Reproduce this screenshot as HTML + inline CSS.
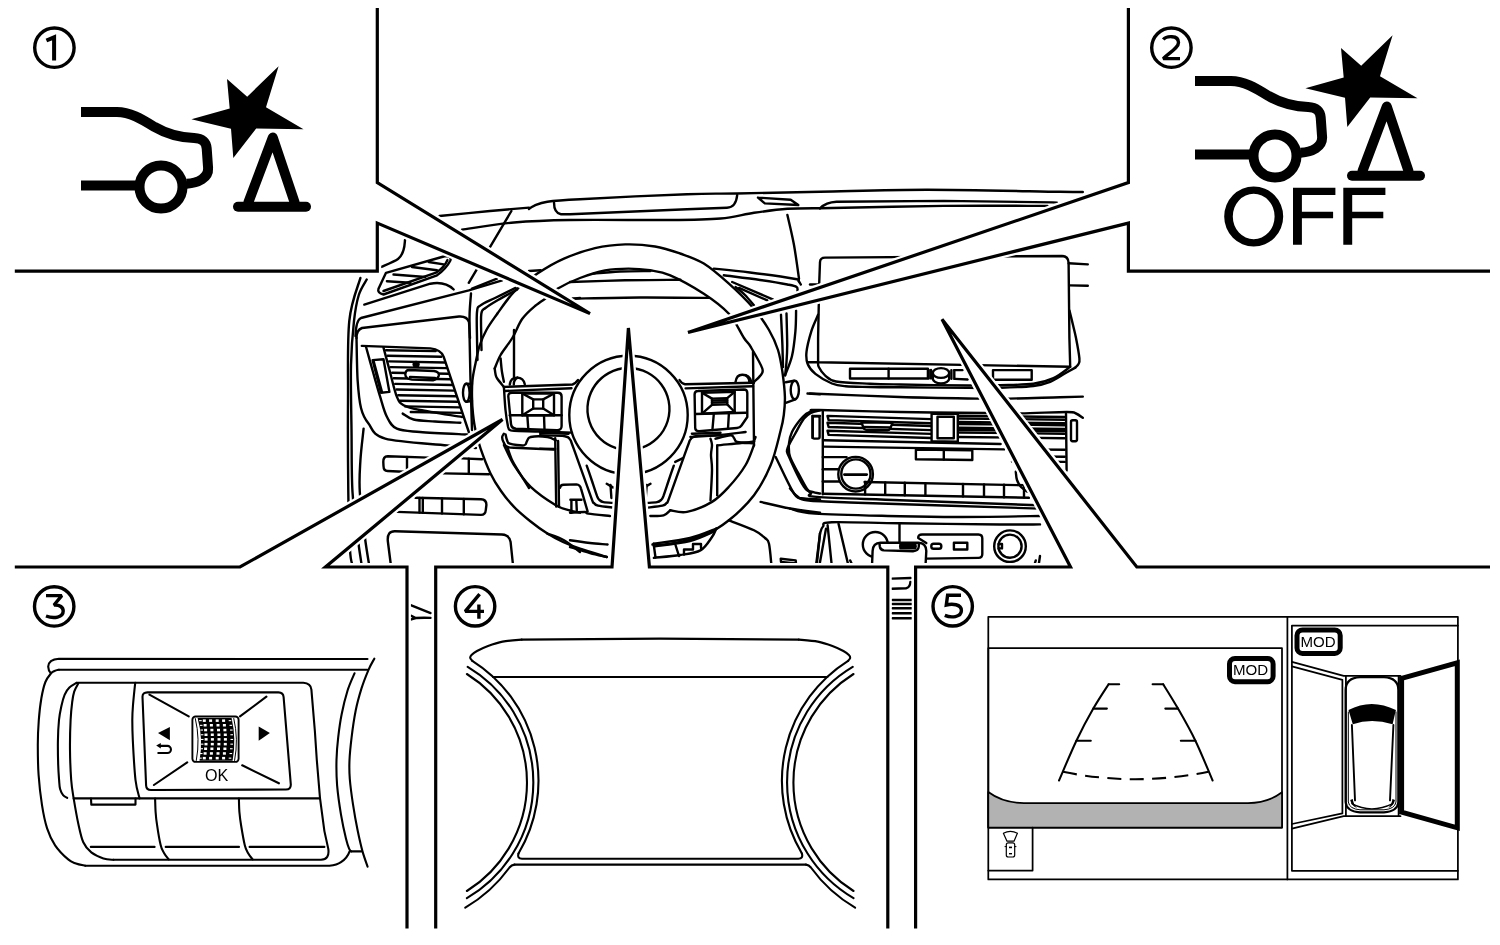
<!DOCTYPE html>
<html lang="en"><head><meta charset="utf-8"><title>diagram</title>
<style>
html,body{margin:0;padding:0;background:#fff;}
body{width:1500px;height:945px;overflow:hidden;font-family:"Liberation Sans",sans-serif;}
svg{display:block;will-change:transform;}
.t{fill:none;stroke:#000;stroke-width:2.4;stroke-linecap:round;stroke-linejoin:round;}
.tw{fill:#fff;stroke:#000;stroke-width:2.4;stroke-linecap:round;stroke-linejoin:round;}
.m{fill:none;stroke:#000;stroke-width:2.1;stroke-linecap:round;stroke-linejoin:round;}
.mw{fill:#fff;stroke:#000;stroke-width:2.1;stroke-linecap:round;stroke-linejoin:round;}
.c{fill:none;stroke:#000;stroke-width:3.2;stroke-linecap:butt;stroke-linejoin:miter;stroke-miterlimit:4;}
.m5{fill:none;stroke:#000;stroke-width:1.75;stroke-linecap:round;stroke-linejoin:round;}
.w{fill:#fff;stroke:none;}
.h{fill:none;stroke:#fff;stroke-width:7.8;stroke-linecap:butt;stroke-linejoin:bevel;}
.k{fill:#000;stroke:none;}
.ic{fill:none;stroke:#000;stroke-width:10;stroke-linecap:butt;stroke-linejoin:round;}
.icr{fill:none;stroke:#000;stroke-width:10;stroke-linecap:round;stroke-linejoin:round;}
.n{fill:none;stroke:#000;stroke-width:3.4;stroke-linecap:butt;stroke-linejoin:miter;stroke-miterlimit:2;}
text{font-family:"Liberation Sans",sans-serif;fill:#000;}
</style></head>
<body>
<svg width="1500" height="945" viewBox="0 0 1500 945">
<g id="dash">
<path class="t" d="M439.5,216.0C447.9,215.2 475.1,212.4 490.0,211.0C504.9,209.6 522.5,208.2 529.0,207.6" />
<path class="t" d="M529.0,209.0C529.8,208.5 530.9,207.0 534.0,205.8C537.1,204.6 539.7,202.8 547.4,201.7C555.1,200.6 556.7,200.4 580.0,199.2C603.3,197.9 660.8,195.1 687.0,194.2C713.2,193.2 715.0,193.9 737.2,193.5C759.4,193.1 788.4,192.3 820.0,191.7C851.6,191.1 887.0,189.7 927.0,189.7C967.0,189.7 1034.0,191.4 1060.0,191.8C1086.0,192.2 1079.0,192.0 1082.8,192.0" />
<path class="t" d="M462.0,229.7C470.7,228.5 496.0,224.1 514.0,222.5C532.0,220.9 544.0,220.4 570.0,220.0C596.0,219.6 645.2,220.2 670.3,220.0C695.4,219.8 706.5,219.7 720.5,218.5C734.5,217.3 742.9,214.4 754.0,212.8C765.1,211.2 776.4,209.6 787.4,208.8C798.4,208.0 814.6,208.3 820.0,208.2" />
<path class="t" d="M820,208.3 Q826,202.4 836.5,201.8 L943.8,200.9 L1052.5,202.4 L1056.9,202.6" />
<path class="t" d="M820.0,208.2C840.6,207.8 905.9,206.3 943.8,205.9C981.7,205.5 1030.2,205.9 1047.5,205.9" />
<path class="t" d="M554,202.5 Q554,213 561,214.3 L570,214.3 L687,209.3 L727,207.7 Q736,207.4 737.2,195" />
<polyline class="t" points="758.0,197.6 790.7,199.7 798.3,205.0 764.8,203.4 758.0,197.6" />
<path class="t" d="M787.4,215.0C788.5,220.0 792.1,234.4 794.0,245.0C795.9,255.6 798.2,273.1 799.0,278.7" />
<polyline class="t" points="511.4,211.0 468.8,282.8" />
<path class="t" d="M405.0,240.0C404.8,241.7 404.7,246.8 403.5,250.0C402.3,253.2 401.8,256.2 398.0,259.0C394.2,261.8 383.8,265.7 381.0,267.0" />
<path class="t" d="M386,272.8 L445.4,256 Q452,256.3 450.4,260.5 Q446,269 437,275.3 L383.5,294.5 Q377,293 378.5,288.7 Z" />
<path class="t" d="M383.5,291 L436,272.6 Q444,268 447.5,260" />
<polyline class="t" points="412.0,267.0 437.0,270.3" />
<polyline class="t" points="393.5,274.5 425.3,277.0" />
<polyline class="t" points="386.9,281.2 410.3,282.8" />
<polyline class="t" points="428.7,262.0 443.7,264.4" />
<path class="t" d="M360.4,278.0C358.5,285.1 351.4,300.5 349.3,320.8C347.2,341.1 348.2,371.5 348.0,400.0C347.8,428.5 348.0,467.0 348.3,492.0C348.6,517.0 349.3,537.7 350.0,550.0C350.7,562.3 352.2,563.3 352.6,566.0" />
<path class="t" d="M366.7,279.5C365.4,282.1 360.9,288.1 358.8,295.0C356.7,301.9 355.3,309.1 354.0,320.8C352.7,332.5 351.4,347.0 351.0,365.0C350.6,383.0 351.2,407.5 351.5,428.7C351.8,449.9 351.4,473.4 352.5,492.0C353.6,510.6 356.4,527.7 358.0,540.0C359.6,552.3 361.2,561.7 361.8,566.0" />
<path class="t" d="M363.6,428.7C363.1,434.0 361.0,449.9 360.4,460.5C359.8,471.1 359.0,479.1 359.8,492.0C360.6,504.9 363.4,525.7 365.0,538.0C366.6,550.3 368.6,561.3 369.3,566.0" />
<path class="t" d="M364.3,304.6 L430.3,283.7 Q445,281 453.7,289.5" />
<path class="t" d="M355.5,336 Q356,320 361,318 L468.8,290.4 L502.2,280.3" />
<polyline class="t" points="472.0,288.7 497.0,278.7" />
<path class="t" d="M356.5,338 Q356.5,330 362,328 L459,316.5 Q467,316 469,322 L470,338" />
<path class="t" d="M471.0,293.5C470.8,296.9 469.8,306.4 469.6,313.8C469.4,321.2 469.5,327.0 469.6,338.0C469.8,349.0 470.1,364.7 470.5,380.0C470.9,395.3 471.8,421.7 472.0,430.0" />
<path class="t" d="M356.5,338.0C356.7,345.0 356.9,368.3 357.6,380.0C358.4,391.7 359.2,400.7 361.0,408.0C362.8,415.3 364.5,418.5 368.5,423.6C372.5,428.7 372.1,435.1 385.2,438.7C398.3,442.3 431.9,443.8 447.0,445.4C462.1,446.9 471.2,447.6 476.0,448.0" />
<path class="t" d="M361.8,345.9 L430.3,348.4 Q441,349.5 443.7,356.8 L468.8,432" />
<path class="t" d="M366.0,346.7C367.2,350.9 370.6,363.6 373.0,372.0C375.4,380.4 377.9,389.4 380.2,396.9C382.5,404.4 384.2,411.7 387.0,417.0C389.8,422.3 391.4,426.2 396.9,428.7C402.4,431.2 408.3,431.0 420.0,432.0C431.7,433.0 459.2,434.1 467.1,434.5" />
<path class="t" d="M383.5,347.6C384.6,351.7 387.8,363.8 390.0,372.0C392.2,380.2 394.6,391.3 396.9,396.9C399.2,402.4 399.8,403.1 403.6,405.3C407.5,407.5 410.2,408.1 420.0,410.0C429.8,411.9 455.1,415.8 462.1,417.0" />
<path class="t" d="M402.7,413.6C404.5,414.6 408.2,418.2 413.6,419.5C419.0,420.8 427.2,420.9 435.0,421.5C442.8,422.1 456.2,422.6 460.4,422.8" />
<polyline class="t" points="386.1,350.2 435.7,351.1" />
<polyline class="t" points="387.6,355.8 441.3,356.8" />
<polyline class="t" points="389.1,361.4 444.7,362.5" />
<polyline class="t" points="390.6,367.1 446.6,368.1" />
<polyline class="t" points="392.2,372.7 448.5,373.7" />
<polyline class="t" points="393.7,378.3 450.4,379.3" />
<polyline class="t" points="395.2,383.9 452.3,385.0" />
<polyline class="t" points="396.7,389.5 454.1,390.6" />
<polyline class="t" points="398.2,395.2 456.0,396.2" />
<polyline class="t" points="399.8,400.8 457.9,401.8" />
<polyline class="t" points="405.3,406.4 459.8,407.4" />
<polyline class="t" points="410.8,412.0 461.6,412.9" />
<polygon class="t" points="372.6,360.1 383.5,359.3 389.4,391.9 381.0,392.7" />
<polyline class="t" points="373.6,361.0 382.0,392.0" />
<circle cx="416.1" cy="364.3" r="3.6" class="k"/>
<path class="tw" d="M409,370 L434,371 Q439.5,372 438.8,375.5 Q438,379 433,380.3 L412,379.6 Q405.5,379 405.3,374.5 Q405.5,370 409,370 Z" />
<polyline class="t" points="410.0,377.0 435.0,378.0" />
<ellipse cx="466.3" cy="392.7" rx="3.3" ry="9" class="tw"/>
<path class="t" d="M466.3,383.7 L472,384 M466.3,401.7 L472,401" />
<path class="t" d="M515.6,287.9C512.2,289.6 500.9,295.1 495.0,298.0C489.1,300.9 483.5,303.1 480.5,305.4C477.5,307.7 477.6,306.6 477.0,312.0C476.4,317.4 476.9,330.0 477.0,338.0C477.1,346.0 477.4,356.3 477.5,360.0" />
<path class="t" d="M517.3,289.5C514.1,291.2 503.3,296.9 498.0,300.0C492.7,303.1 488.3,305.7 485.5,308.0C482.7,310.3 482.0,308.8 481.3,313.8C480.6,318.8 481.3,332.0 481.3,338.0C481.3,344.0 481.5,348.0 481.5,350.0" />
<path class="t" d="M428.7,457.6 L387.7,456.2 Q383,456.5 383.3,462 L383.5,466 Q383.6,471 387.5,471 L403.6,471.8" />
<polyline class="t" points="407.0,457.0 407.0,470.0" />
<polyline class="t" points="462.1,458.4 482.2,459.2" />
<polyline class="t" points="443.7,473.4 488.9,474.3" />
<polyline class="t" points="468.8,458.6 468.8,473.8" />
<path class="t" d="M415.3,497.7 L481,499.3 Q486.5,499.6 486.4,505 L485.8,510 Q485.4,514.9 481,514.9 L396.9,511.9" />
<polyline class="t" points="419.5,498.0 419.5,512.6" />
<polyline class="t" points="422.8,498.0 422.8,512.7" />
<polyline class="t" points="442.0,498.5 442.0,513.4" />
<polyline class="t" points="463.8,499.0 463.8,514.2" />
<path class="t" d="M391,566 L387.8,541 Q387,531 395,531.2 L502,534.5 Q509.5,535 510.6,542 L513.1,566" />
<path class="t" d="M497.2,313.8C500.0,310.2 507.3,298.7 514.0,292.0C520.7,285.3 529.1,279.2 537.4,273.6C545.7,268.0 554.4,262.8 564.0,258.6C573.6,254.4 584.8,250.6 595.0,248.2C605.2,245.8 615.2,244.7 625.2,244.4C635.2,244.1 645.9,245.0 655.0,246.5C664.1,248.0 671.9,250.7 680.0,253.5C688.1,256.4 695.6,258.6 703.8,263.6C711.9,268.6 720.5,276.2 728.9,283.7C737.3,291.2 747.3,301.1 754.0,308.8C760.7,316.5 765.0,323.1 769.0,330.0C773.0,336.9 775.8,343.0 778.0,350.0C780.2,357.0 781.2,364.0 782.4,371.8C783.5,379.6 784.7,389.7 784.9,396.9C785.1,404.1 784.5,409.4 783.8,415.0C783.1,420.6 782.9,422.0 780.7,430.3C778.5,438.6 775.2,454.2 770.7,465.0C766.2,475.8 761.0,486.0 754.0,495.2C747.0,504.4 737.3,513.6 728.9,520.3C720.5,527.0 713.6,531.4 703.8,535.3C694.0,539.2 678.9,542.2 670.3,543.7C661.7,545.2 655.0,544.5 652.0,544.6" />
<path class="t" d="M497.2,313.8C495.4,316.5 489.3,324.6 486.4,330.0C483.4,335.4 481.3,340.4 479.5,346.0C477.7,351.6 476.7,357.7 475.5,363.4C474.3,369.1 473.1,374.4 472.5,380.0C471.9,385.6 471.9,391.2 472.0,396.9C472.1,402.6 472.4,408.4 473.0,414.0C473.6,419.6 474.2,424.6 475.5,430.3C476.8,436.0 478.0,441.2 480.5,448.4C483.0,455.6 487.1,466.3 490.5,473.4C493.9,480.5 497.1,485.4 501.0,491.0C504.9,496.6 509.2,501.9 514.0,506.9C518.8,511.9 524.4,516.5 530.0,521.0C535.6,525.5 541.9,530.1 547.4,533.6C552.9,537.1 557.6,539.5 563.0,542.0C568.4,544.5 572.7,546.2 580.0,548.7C587.3,551.2 602.3,555.6 606.8,557.0" />
<path class="t" d="M494.7,368.5C495.7,366.2 497.7,360.1 500.6,355.0C503.5,349.9 508.7,344.0 512.3,338.0C515.9,332.0 518.5,324.1 522.3,318.8C526.1,313.5 530.5,309.8 535.0,306.0C539.5,302.2 545.3,298.9 549.0,296.0C552.7,293.1 552.2,291.7 557.4,288.7C562.6,285.7 572.1,281.0 580.0,278.0C587.9,275.0 596.9,272.1 605.0,270.5C613.1,268.9 621.0,268.6 628.5,268.6C636.0,268.6 643.0,269.2 650.0,270.3C657.0,271.4 661.3,271.4 670.3,275.3C679.3,279.2 694.0,287.3 703.8,293.7C713.6,300.1 722.2,306.4 728.9,313.8C735.6,321.2 740.4,332.5 744.0,338.0C747.6,343.5 747.6,341.6 750.6,346.7C753.6,351.8 760.7,363.6 762.3,368.5C763.9,373.4 761.4,373.8 760.0,376.0C758.6,378.2 755.0,380.8 754.0,381.8" />
<path class="t" d="M494.7,368.5C494.8,369.4 495.1,372.3 495.5,374.0C495.9,375.7 495.8,376.4 497.2,378.5C498.6,380.6 502.8,385.5 503.9,386.9" />
<polyline class="t" points="514.0,330.0 514.0,378.5" />
<path class="t" d="M500.6,358.4C500.8,360.7 501.4,368.1 502.0,372.0C502.6,375.9 503.6,380.2 503.9,381.8" />
<path class="t" d="M503.9,445.0C505.6,448.3 509.5,458.0 514.0,465.0C518.5,472.0 523.7,480.1 530.7,486.8C537.7,493.5 549.2,501.2 555.8,505.2C562.3,509.1 566.0,509.2 570.0,510.5C574.0,511.8 578.3,512.3 580.0,512.7" />
<path class="t" d="M570.0,540.3C573.3,540.8 583.7,542.3 590.0,543.0C596.3,543.7 604.7,544.2 607.6,544.5" />
<path class="t" d="M754.0,445.0C752.6,448.3 749.8,458.0 745.6,465.0C741.4,472.0 734.5,480.7 728.9,486.8C723.3,492.9 719.0,497.7 712.0,501.9C705.0,506.1 694.0,510.5 687.0,511.9C680.0,513.3 673.1,510.5 670.3,510.2" />
<path class="t" d="M570.0,282.0C579.2,281.7 606.6,280.7 625.0,280.3C643.4,279.9 671.2,279.9 680.4,279.8" />
<path class="t" d="M593.4,273.6C597.8,273.2 610.5,271.9 620.0,271.5C629.5,271.1 645.2,271.1 650.3,271.0" />
<path class="t" d="M572.5,298.7C583.8,298.5 617.3,297.6 640.0,297.5C662.7,297.4 697.3,297.8 708.8,297.9" />
<polyline class="t" points="529.0,271.0 540.7,270.3" />
<polyline class="t" points="572.5,298.7 580.0,298.0" />
<circle cx="628.5" cy="415" r="59.2" class="t"/>
<path class="t" d="M615.5,447.9 A41,41 0 1 1 642,447.7" />
<path class="t" d="M503.9,386.9 L572.5,384.5 Q575.5,383.5 578,380 M504.6,391 L571.5,388.2" />
<path class="t" d="M503.9,386.9C504.2,390.8 504.8,403.3 505.5,410.0C506.2,416.7 507.4,423.7 508.1,427.0C508.9,430.3 509.0,429.4 510.0,430.0C511.0,430.6 509.0,430.6 514.0,430.8C519.0,431.1 530.3,431.2 540.0,431.5C549.7,431.8 566.7,432.4 572.0,432.6" />
<path class="t" d="M512,392.7 L558,392.7 Q561.6,392.8 561.6,396.5 L561.6,426 Q561.6,430.3 557,430.2 L516,428.7 Q511.5,428.4 511,424 L508.3,396.5 Q508.1,392.7 512,392.7 Z" />
<polygon class="t" points="522.3,393.5 554.0,393.5 554.0,415.3 522.3,415.3" />
<polygon class="t" points="533.2,399.4 543.2,399.4 543.2,408.6 533.2,408.6" />
<polyline class="t" points="522.3,393.5 533.2,399.4" />
<polyline class="t" points="554.0,393.5 543.2,399.4" />
<polyline class="t" points="554.0,415.3 543.2,408.6" />
<polyline class="t" points="522.3,415.3 533.2,408.6" />
<polyline class="t" points="509.8,415.3 561.6,415.3" />
<polyline class="t" points="527.3,415.3 528.3,429.2" />
<polyline class="t" points="544.0,415.3 544.5,429.8" />
<path class="t" d="M509.8,384.6 Q510.5,377.5 517.3,377.6 Q523.5,377.8 524.8,384.2" />
<path class="t" d="M517.5,377.6 Q513.5,380 513.8,384.5" />
<path class="t" d="M503.9,433.7C503.6,434.2 502.3,435.6 502.2,437.0C502.1,438.4 502.6,440.3 503.5,442.0C504.4,443.7 504.6,446.0 507.3,447.0C510.1,448.0 512.2,447.6 520.0,448.0C527.8,448.4 548.3,449.3 554.0,449.6" />
<path class="t" d="M505.6,434.5C505.8,435.4 506.3,438.5 507.0,440.0C507.7,441.5 507.0,442.8 509.8,443.7C512.6,444.6 521.1,445.8 524.0,445.4C526.9,444.9 525.9,442.4 527.0,441.0C528.1,439.6 527.3,437.7 530.7,437.0C534.1,436.3 543.2,436.4 547.4,437.0C551.6,437.6 554.4,439.8 555.8,440.4" />
<path class="t" d="M507.3,447.0C508.1,449.2 510.1,455.8 512.0,460.0C514.0,464.2 516.2,467.3 519.0,472.0C521.8,476.7 527.3,485.3 529.0,488.0" />
<polyline class="t" points="555.2,438.1 556.2,506.5" />
<polyline class="t" points="558.1,441.0 559.0,506.5" />
<polyline class="t" points="540.0,448.6 555.2,449.0" />
<path class="t" d="M560,487.8 Q560.5,484.9 563.5,484.8 L576.5,484.4 Q580,484.6 581,488.6 L587.6,511.4" />
<path class="t" d="M571.4,510.5 L571.4,499.8 L576.3,499.8 L576.8,510.5 M570.4,499.8 L581.5,499.8" />
<path class="t" d="M679.5,380 Q681.5,383.6 685,384.2 L754,382.7 M685.6,388.4 L753,386.2" />
<path class="t" d="M698,391 L744,389.5 Q747.3,389.5 747.3,393 L747.3,417 L741.5,425.5 Q740,427.8 737,428 L699,431.2 Q695.4,431.3 695.2,428 L694.6,394.5 Q694.6,391 698,391 Z" />
<polygon class="t" points="702.0,392.7 734.7,391.9 734.7,412.0 702.0,413.6" />
<polygon class="t" points="712.0,398.6 727.2,398.2 727.2,404.4 712.0,404.8" />
<polyline class="t" points="712.0,400.6 727.2,400.3" />
<polyline class="t" points="712.0,402.6 727.2,402.3" />
<polyline class="t" points="702.0,392.7 712.0,398.6" />
<polyline class="t" points="734.7,391.9 727.2,398.2" />
<polyline class="t" points="734.7,412.0 727.2,404.4" />
<polyline class="t" points="702.0,413.6 712.0,404.8" />
<polyline class="t" points="695.2,414.0 745.6,412.8" />
<polyline class="t" points="713.8,414.0 712.4,430.0" />
<polyline class="t" points="728.9,413.4 728.0,428.8" />
<path class="t" d="M735.5,382.2 Q736.5,374.6 742.5,374.8 Q749.5,375 751.4,381.8" />
<path class="t" d="M746,375.5 Q749.5,378 749.3,382.2" />
<polyline class="t" points="753.0,351.7 754.0,445.4" />
<path class="t" d="M690.4,437.0C695.3,436.7 710.8,435.8 720.0,435.0C729.2,434.2 741.3,432.5 745.6,432.0" />
<path class="t" d="M755.6,437.0C755.3,437.6 754.8,439.7 754.0,440.5C753.2,441.3 756.7,441.2 750.6,442.0C744.5,442.8 722.8,444.8 717.2,445.4" />
<path class="t" d="M715.5,438.7C718.0,438.1 727.4,435.4 730.5,435.3C733.6,435.2 732.9,436.9 734.0,438.0C735.1,439.1 734.2,441.1 737.2,442.0C740.2,442.9 749.8,443.1 752.3,443.3" />
<polyline class="t" points="717.2,445.4 717.2,495.2" />
<path class="t" d="M710.5,438.7C710.8,439.8 711.9,442.3 712.0,445.0C712.1,447.7 711.0,450.8 711.0,455.0C711.0,459.2 712.1,462.5 712.0,470.0C711.9,477.5 710.8,495.2 710.5,500.2" />
<path class="t" d="M540.0,435.2C544.1,435.4 559.8,435.5 564.8,436.2C569.8,436.9 568.8,438.3 570.0,439.5C571.2,440.7 570.6,440.4 571.8,443.5C573.0,446.6 573.8,449.0 577.1,458.1C580.4,467.2 588.6,490.6 591.4,498.1C594.2,505.6 592.9,501.7 594.0,503.0C595.1,504.3 594.8,504.9 598.0,505.7C601.2,506.5 610.8,507.3 613.3,507.6" />
<path class="t" d="M586.7,465.7C587.6,468.2 590.3,475.9 592.0,481.0C593.7,486.1 595.9,493.0 597.1,496.2C598.4,499.4 598.4,499.0 599.5,500.0C600.6,501.0 601.2,501.7 603.5,502.2C605.8,502.7 611.7,502.8 613.3,502.9" />
<polyline class="t" points="540.0,432.8 568.6,433.7" />
<path class="t" d="M720.5,435.2C716.4,435.4 700.7,435.5 695.7,436.2C690.7,436.9 691.7,438.3 690.5,439.5C689.3,440.7 689.9,440.4 688.7,443.5C687.5,446.6 686.7,449.0 683.4,458.1C680.1,467.2 671.9,490.6 669.1,498.1C666.3,505.6 667.6,501.7 666.5,503.0C665.4,504.3 665.7,504.9 662.5,505.7C659.3,506.5 649.8,507.3 647.2,507.6" />
<path class="t" d="M673.8,465.7C672.9,468.2 670.2,475.9 668.5,481.0C666.8,486.1 664.6,493.0 663.4,496.2C662.1,499.4 662.1,499.0 661.0,500.0C659.9,501.0 659.3,501.7 657.0,502.2C654.7,502.7 648.8,502.8 647.2,502.9" />
<polyline class="t" points="720.5,432.8 691.9,433.7" />
<polyline class="t" points="606.7,483.8 613.3,487.6" />
<polyline class="t" points="610.5,485.0 611.4,498.0" />
<polyline class="t" points="650.5,483.8 643.9,487.6" />
<polyline class="t" points="646.7,485.0 645.8,498.0" />
<polyline class="t" points="675.2,461.9 682.9,458.1" />
<path class="t" d="M570.0,512.7C572.5,512.6 581.9,511.9 585.0,512.0C588.1,512.1 584.2,512.9 588.4,513.6C592.6,514.3 606.4,515.6 610.0,516.0" />
<path class="t" d="M650.3,516.0C652.5,515.9 660.3,516.3 663.6,515.3C666.9,514.3 669.2,511.0 670.3,510.2" />
<path class="t" d="M653.6,543.7C659.7,542.8 679.5,540.5 690.0,538.0C700.5,535.5 711.9,530.2 716.3,528.6" />
<path class="t" d="M716.3,528.6C715.6,530.0 714.6,533.4 712.0,537.0C709.4,540.6 705.7,547.4 700.4,550.4C695.1,553.4 687.8,553.8 680.0,555.0C672.2,556.2 658.0,557.4 653.6,557.9" />
<polyline class="t" points="653.6,543.7 655.5,557.5" />
<path class="t" d="M654.0,546.5C660.0,545.6 680.0,543.5 690.0,541.0C700.0,538.5 710.0,533.1 714.0,531.5" />
<polyline class="t" points="675.5,545.0 679.0,556.0" />
<polyline class="t" points="684.0,554.5 684.0,549.5 693.0,549.5 693.0,544.0 701.0,544.0 701.0,548.0" />
<path class="t" d="M547.4,533.6C550.2,534.7 558.6,537.2 564.0,540.3C569.4,543.4 577.3,550.0 580.0,552.0" />
<path class="t" d="M570.0,547.0C573.3,548.0 583.9,551.3 590.0,553.0C596.1,554.7 604.0,556.3 606.8,557.0" />
<path class="t" d="M713.8,268.6C719.8,269.2 736.6,270.8 750.0,272.5C763.4,274.2 785.9,277.3 794.0,278.7C802.1,280.1 797.4,280.0 798.5,281.0C799.6,282.0 800.4,283.9 800.8,284.5" />
<path class="t" d="M723.8,275.3C729.8,276.1 749.4,278.5 760.0,280.0C770.6,281.5 781.3,283.3 787.4,284.5C793.5,285.7 794.9,285.9 796.6,287.0C798.3,288.1 797.3,290.5 797.4,291.2" />
<polyline class="t" points="732.2,282.0 773.2,299.6" />
<polyline class="t" points="739.0,287.9 767.3,300.4" />
<path class="t" d="M735.5,287.0C737.1,288.3 741.9,291.9 745.0,295.0C748.1,298.1 752.5,303.7 754.0,305.4" />
<path class="t" d="M781.0,314.8C781.2,319.8 782.1,336.3 782.4,345.0C782.7,353.7 782.9,363.3 783.0,367.0" />
<path class="t" d="M786.5,313.4C786.6,318.7 787.2,336.9 787.2,345.0C787.2,353.1 786.9,356.9 786.5,362.0C786.1,367.1 785.3,373.1 785.1,375.3" />
<path class="t" d="M796.1,310.6C796.0,314.1 796.1,323.7 795.4,331.3C794.7,338.9 793.7,348.7 792.0,356.0C790.3,363.3 786.2,372.1 785.1,375.3" />
<path class="t" d="M785.8,382.2 L794,380.8 M785.8,402.8 L795.4,399.4" />
<ellipse cx="794.8" cy="390" rx="4.1" ry="9.2" class="t"/>
<polyline class="t" points="807.5,393.5 820.0,394.4" />
<path class="t" d="M820.0,410.3C818.5,410.8 813.7,411.6 811.0,413.0C808.3,414.4 806.7,415.1 804.0,418.6C801.3,422.1 797.8,429.0 795.0,434.0C792.2,439.0 788.4,444.9 787.4,448.7C786.4,452.5 786.2,450.3 789.0,456.7C791.8,463.1 800.1,480.9 804.0,486.8C807.9,492.7 809.8,490.7 812.5,491.8C815.2,492.9 818.8,493.2 820.0,493.5" />
<path class="t" d="M775.7,457.0C778.8,463.1 789.3,486.6 794.0,493.5C798.7,500.4 799.7,497.5 804.0,498.5C808.3,499.5 817.3,499.2 820.0,499.4" />
<polyline class="t" points="812.5,416.0 820.0,416.0" />
<polyline class="t" points="812.5,416.0 812.5,437.9" />
<path class="t" d="M760.6,501.9C765.5,503.0 780.1,506.7 790.0,508.5C799.9,510.3 815.0,512.0 820.0,512.7" />
<path class="t" d="M728.9,520.3C733.1,522.0 748.0,527.3 754.0,530.3C760.0,533.2 762.5,535.8 765.0,538.0C767.5,540.2 767.9,539.0 769.0,543.7C770.1,548.4 771.1,562.3 771.5,566.0" />
<polygon class="t" points="780.7,558.7 795.7,560.4 796.0,563.5 781.0,562.0" />
<polyline class="t" points="820.0,533.6 816.6,566.0" />
<path class="t" d="M818.1,362.2 L818.1,338 L819.2,283.7 L820,262 Q820.3,257.6 825,257.6 L1062,256 Q1068.3,256.2 1068.6,262.8 L1069.4,338 L1070.2,366.8 L818.1,362.2 L807.1,362.2" />
<polyline class="t" points="810.0,284.5 819.0,284.5" />
<path class="t" d="M1068.6,263.3 L1087.8,264.4 M1069.4,285.4 L1087.8,285.7" />
<path class="t" d="M1069.4,310.4C1070.0,312.8 1071.9,320.4 1073.0,325.0C1074.1,329.6 1074.9,332.4 1076.0,338.0C1077.1,343.6 1079.0,354.1 1079.4,358.4C1079.8,362.7 1079.2,362.5 1078.5,364.0C1077.8,365.5 1075.8,367.0 1075.3,367.6" />
<path class="t" d="M818.1,314.8C817.0,317.6 813.2,325.1 811.3,331.3C809.4,337.5 807.1,346.4 806.5,351.9C805.9,357.4 806.3,360.6 807.8,364.3C809.3,368.0 811.4,370.7 815.4,373.9C819.4,377.1 826.8,381.4 831.9,383.5C837.0,385.6 839.4,385.7 845.7,386.3C852.1,386.9 861.0,386.8 870.0,387.0C879.0,387.2 883.5,387.2 900.0,387.3C916.5,387.4 952.1,387.8 968.9,387.9C985.7,388.0 989.9,388.0 1000.6,387.7C1011.4,387.4 1025.1,387.0 1033.4,386.0C1041.7,385.0 1045.1,383.8 1050.2,381.8C1055.3,379.8 1059.8,376.4 1064.0,374.0C1068.2,371.6 1073.4,368.7 1075.3,367.6" />
<path class="t" d="M818.1,362.2C818.2,363.0 817.6,364.8 818.8,367.0C819.9,369.2 822.1,372.9 825.0,375.3C827.9,377.7 828.5,380.1 836.0,381.5C843.5,382.9 859.3,383.2 870.0,383.7C880.7,384.2 883.5,384.2 900.0,384.5C916.5,384.8 952.2,385.4 968.9,385.5C985.6,385.6 989.2,385.5 1000.0,385.2C1010.8,384.9 1024.5,385.0 1033.4,383.8C1042.3,382.6 1047.4,381.0 1053.5,378.2C1059.6,375.4 1067.4,368.7 1070.2,366.8" />
<polygon class="t" points="850.0,368.8 927.9,368.8 927.9,378.5 850.0,378.5" />
<polyline class="t" points="888.6,368.8 888.6,378.5" />
<path class="tw" d="M932.8,373 L932.8,378.5 A8.2,4.9 0 0 0 949.2,378.5 L949.2,373 Z" />
<ellipse cx="941" cy="373" rx="8.2" ry="4.9" class="tw"/>
<polyline class="t" points="928.7,370.0 928.7,378.4" />
<polyline class="t" points="931.0,370.0 931.0,378.4" />
<polyline class="t" points="951.4,370.1 951.4,378.7" />
<polyline class="t" points="954.3,370.1 954.3,378.9" />
<polyline class="t" points="954.3,370.1 962.5,370.1" />
<polyline class="t" points="955.0,378.9 967.7,379.5" />
<polygon class="t" points="993.0,370.1 1031.7,370.1 1031.7,379.8 993.0,379.8" />
<path class="t" d="M810.0,393.5C825.0,394.1 872.1,396.1 900.0,397.0C927.9,397.9 959.0,398.3 977.2,398.6C995.4,398.9 995.2,398.8 1009.0,398.6C1022.8,398.4 1047.7,397.5 1060.0,397.2C1072.3,396.9 1079.0,396.7 1082.8,396.6" />
<path class="t" d="M806.3,413.8C807.2,413.3 809.9,411.6 812.0,411.0C814.1,410.4 804.3,409.8 819.0,410.0C833.7,410.2 872.2,411.5 900.0,412.0C927.8,412.5 965.5,412.8 985.6,413.0C1005.7,413.2 1007.2,413.6 1020.7,413.4C1034.2,413.2 1057.7,412.0 1066.9,412.0C1076.1,412.0 1073.3,412.5 1076.0,413.5C1078.7,414.5 1081.7,417.1 1082.8,417.8" />
<polyline class="t" points="822.8,410.6 822.8,494.2" />
<polyline class="t" points="1066.0,413.6 1066.6,470.5" />
<rect x="812.7" y="416.4" width="6.9" height="22.2" rx="1.6" class="t"/>
<rect x="1071" y="420.3" width="6" height="20.9" rx="1.6" class="t"/>
<path class="t" d="M931.2,419.1 L827.5,415.9 L828.6,420.1 L931.2,423.2" />
<path class="t" d="M931.2,426.0 L827.5,422.8 L828.6,427.0 L931.2,430.1" />
<path class="t" d="M931.2,433.9 L827.5,430.7 L828.6,434.9 L931.2,438.0" />
<polyline class="t" points="823.8,440.2 1000.6,444.0" />
<polyline class="t" points="823.8,446.6 1004.0,449.4" />
<polygon class="tw" points="931.6,413.8 957.8,413.8 957.8,441.7 931.6,441.2" />
<polygon class="t" points="937.5,416.7 953.8,416.7 953.8,438.3 937.5,438.3" />
<path class="tw" d="M861.4,422.2 L892.6,422.8 L890.3,428.4 Q889.6,430.2 887.5,430.2 L866,429.7 Q864,429.6 863.5,428 Z" />
<polyline class="t" points="863.0,427.0 890.5,427.5" />
<polyline class="t" points="958.8,415.8 1064.4,417.0" />
<polyline class="t" points="958.8,418.5 1064.4,419.7" />
<polyline class="t" points="958.8,422.0 1064.4,423.2" />
<polyline class="t" points="958.8,424.0 1064.4,425.2" />
<polyline class="t" points="958.8,427.8 1064.4,429.0" />
<polyline class="t" points="958.8,429.8 1064.4,431.0" />
<polyline class="t" points="958.8,432.5 1064.4,433.7" />
<polyline class="t" points="958.8,437.0 1064.4,438.2" />
<polyline class="t" points="1012.0,449.3 1064.8,449.7" />
<polyline class="t" points="1012.0,456.3 1064.8,456.7" />
<polyline class="t" points="1012.0,461.5 1064.8,461.9" />
<polygon class="t" points="915.9,449.5 972.3,450.2 972.3,460.0 915.9,459.2" />
<polyline class="t" points="943.8,449.8 943.8,459.6" />
<polyline class="t" points="822.8,457.1 846.6,457.1" />
<polyline class="t" points="822.8,469.3 839.2,469.3" />
<polyline class="t" points="822.8,481.5 840.2,481.5" />
<circle cx="855.6" cy="474.2" r="17.3" class="tw"/>
<circle cx="855.9" cy="474" r="14.6" class="t"/>
<path class="t" d="M844.4,474.6 L866.7,474.6" style="stroke-width:2.7"/>
<polyline class="t" points="864.6,482.0 1024.0,485.2" />
<polyline class="t" points="822.8,493.7 1029.0,497.7" />
<polyline class="t" points="865.1,482.0 865.1,494.5" />
<polyline class="t" points="885.2,482.4 885.2,494.9" />
<polyline class="t" points="904.8,482.8 904.8,495.3" />
<polyline class="t" points="925.4,483.2 925.4,495.7" />
<polyline class="t" points="963.0,484.0 963.0,496.4" />
<polyline class="t" points="984.0,484.4 984.0,496.8" />
<polyline class="t" points="1004.0,484.8 1004.0,497.2" />
<polyline class="t" points="1024.0,485.2 1024.0,497.6" />
<path class="t" d="M1015.8,471.8C1016.0,473.2 1016.1,477.5 1017.0,480.0C1017.9,482.5 1019.2,485.0 1021.0,487.0C1022.8,489.0 1026.4,491.0 1027.5,491.8" />
<path class="t" d="M806.3,413.8C805.2,414.8 802.4,417.0 800.0,420.0C797.6,423.0 793.8,428.1 792.0,432.0C790.2,435.9 789.3,439.2 789.0,443.3C788.7,447.4 788.4,451.7 790.0,456.7C791.6,461.7 795.6,468.1 798.4,473.4C801.2,478.7 804.6,485.2 806.7,488.5C808.8,491.8 809.3,491.6 811.0,493.0C812.7,494.4 802.0,495.7 816.8,496.9C831.6,498.1 863.2,498.8 900.0,500.2C936.8,501.6 1014.6,504.4 1037.5,505.2" />
<path class="t" d="M790.0,488.5C791.2,489.8 794.2,494.1 797.0,496.0C799.8,497.9 797.9,499.1 806.7,500.2C815.5,501.3 811.1,501.1 850.0,502.5C888.9,503.9 1008.3,507.6 1040.0,508.6" />
<path class="t" d="M790.0,508.6C794.2,509.4 796.7,512.3 815.0,513.6C833.3,514.9 876.3,515.6 900.0,516.2C923.7,516.8 933.9,517.0 957.2,517.0C980.5,517.0 1026.2,516.2 1040.0,516.0" />
<path class="t" d="M820.0,533.6C820.5,532.4 821.0,528.4 823.0,526.5C825.0,524.6 819.0,522.7 831.8,522.2C844.6,521.7 872.0,522.9 900.0,523.3C928.0,523.7 976.7,524.3 1000.0,524.5C1023.3,524.7 1033.3,524.4 1040.0,524.4" />
<polyline class="t" points="820.0,533.6 816.0,566.0" />
<polyline class="t" points="826.0,528.6 819.3,566.0" />
<polyline class="t" points="827.6,525.3 831.8,566.0" />
<polyline class="t" points="838.5,523.6 848.5,566.0" />
<polyline class="t" points="850.2,560.4 852.7,566.0" />
<polyline class="t" points="899.5,523.6 899.5,542.0" />
<circle cx="875.3" cy="544.5" r="12.5" class="t"/>
<path class="w" d="M872,566 L872.6,551 Q873,543 880.5,542.8 L918.5,542.8 Q926,543 926.3,551 L925.5,566 Z" />
<path class="t" d="M872,566 L872.6,551 Q873,543 880.5,542.8 L918.5,542.8 Q926,543 926.3,551 L925.5,566" />
<path class="t" d="M879.5,543.7 L879.8,546.5 Q880.3,550.2 884,550.4 L913,551.2 Q918.4,551 918.8,546.5 L918.8,543.7" />
<rect x="900.4" y="544.3" width="15" height="4" class="t"/>
<polyline class="t" points="900.4,546.3 915.4,546.3" />
<path class="t" d="M922,534.5 L978.5,534.5 Q982.3,534.6 982.3,538.5 L982.3,554 Q982.3,557.9 978.5,557.9 L926.3,558.6 M926.3,543 L918.2,538 Q918,534.6 922,534.5" />
<rect x="931.3" y="543.7" width="10" height="5" rx="2.3" class="t"/>
<rect x="953.9" y="542.8" width="13.4" height="6.7" class="t"/>
<circle cx="1010" cy="546.2" r="15.8" class="t"/>
<circle cx="1010" cy="546.2" r="11.6" class="t"/>
<path class="t" d="M998.6,544 L1002,544 L1002,548.4 L998.6,548.4" />
<polyline class="t" points="1035.8,560.4 1034.0,566.0" />
<polyline class="t" points="1040.0,556.0 1038.5,566.0" />
<path class="t" d="M892,578.6 L910.6,578 M892,588.8 L906,588.3 Q910,587.5 910.4,582" />
<polyline class="t" points="892.5,600.0 911.5,600.0" />
<polyline class="t" points="892.5,604.0 911.5,604.0" />
<polyline class="t" points="892.5,608.3 911.5,608.3" />
<polyline class="t" points="892.5,613.3 911.5,613.3" />
<polyline class="t" points="892.5,618.3 911.5,618.3" />
<path class="t" d="M411.3,605.3 L430.6,613.1 M411.3,615.8 L415.8,618 L411.3,619.4 M415.8,618 Q423,617.6 430.6,617.9" />
</g>
<g id="callouts">
<polygon class="w" points="15.0,271.2 377.3,271.2 377.3,223.1 590.0,313.6 377.3,182.6 377.3,8.0 15.0,8.0" />
<polygon class="w" points="1490.0,271.2 1128.4,271.2 1128.4,223.1 688.0,332.4 1128.4,182.6 1128.4,8.0 1490.0,8.0" />
<polygon class="w" points="15.0,567.0 240.0,567.0 502.5,419.5 325.5,567.0 407.0,567.0 407.0,945.0 15.0,945.0" />
<polygon class="w" points="435.7,945.0 435.7,567.0 612.0,567.0 628.4,328.0 649.4,567.0 887.8,567.0 887.8,945.0" />
<polygon class="w" points="915.6,945.0 915.6,567.0 1070.5,567.0 942.0,319.3 1136.8,567.0 1490.0,567.0 1490.0,945.0" />
<polyline class="h" points="14.8,271.2 377.3,271.2 377.3,223.1 590.0,313.6 377.3,182.6 377.3,8.0" />
<polyline class="h" points="1490.0,271.2 1128.4,271.2 1128.4,223.1 688.0,332.4 1128.4,182.6 1128.4,8.0" />
<polyline class="h" points="14.8,567.0 240.0,567.0 502.5,419.5 325.5,567.0 407.0,567.0 407.0,928.5" />
<polyline class="h" points="435.7,928.5 435.7,567.0 612.0,567.0 628.4,328.0 649.4,567.0 887.8,567.0 887.8,928.5" />
<polyline class="h" points="915.6,928.5 915.6,567.0 1070.5,567.0 942.0,319.3 1136.8,567.0 1490.0,567.0" />
<polyline class="c" points="14.8,271.2 377.3,271.2 377.3,223.1 590.0,313.6 377.3,182.6 377.3,8.0" />
<polyline class="c" points="1490.0,271.2 1128.4,271.2 1128.4,223.1 688.0,332.4 1128.4,182.6 1128.4,8.0" />
<polyline class="c" points="14.8,567.0 240.0,567.0 502.5,419.5 325.5,567.0 407.0,567.0 407.0,928.5" />
<polyline class="c" points="435.7,928.5 435.7,567.0 612.0,567.0 628.4,328.0 649.4,567.0 887.8,567.0 887.8,928.5" />
<polyline class="c" points="915.6,928.5 915.6,567.0 1070.5,567.0 942.0,319.3 1136.8,567.0 1490.0,567.0" />
</g>
<circle cx="54.4" cy="47.7" r="19.7" class="n"/>
<circle cx="1171.4" cy="47.7" r="19.7" class="n"/>
<circle cx="54.2" cy="606.4" r="19.7" class="n"/>
<circle cx="475.1" cy="606.3" r="19.7" class="n"/>
<circle cx="952.7" cy="606.3" r="19.7" class="n"/>
<g aria-label="1"><title>1</title>
<path class="n" d="M46.4,40.5 L54.1,37.3 L54.1,60.4" style="stroke-width:4;"/>
</g><g aria-label="2"><title>2</title>
<path class="n" d="M1163.3,39.6 C1166,36 1178.5,34.5 1178.5,42.5 C1178.5,48 1170,52 1163.2,58.6 L1180,58.6" />
</g><g aria-label="3"><title>3</title>
<path class="n" d="M46,595.6 L61.8,595.6 L54,605 C60,604.5 63.2,607.5 63.2,611 C63.2,617.5 54,619 46,616" />
</g><g aria-label="4"><title>4</title>
<path class="n" d="M479.6,594.2 L465.2,611.4 L484,611.4 M478.9,604.6 L478.9,618.7" />
</g><g aria-label="5"><title>5</title>
<path class="n" d="M961,595.3 L947.6,595.3 L946.3,605 C952,603.5 961.4,604 961.4,610.6 C961.4,617.5 951,618 944.8,615.4" />
</g>
<g transform="translate(0,0)">
<path class="ic" d="M81,112 L116.8,112 C130,112 141,118.5 154.5,126.9 C168,134.8 182,137.6 194.1,138.1 C203,138.6 206,142 206.7,148.5 L208.1,168 C208.7,178 198,183 186.5,183.7" />
<path class="ic" d="M81,185.5 L136,185.5" />
<circle cx="161" cy="187" r="21.5" class="ic"/>
<polygon class="k" points="278.6,66.2 266.0,107.2 303.5,129.3 256.2,128.4 233.3,157.9 231.0,128.7 191.4,119.2 229.7,108.4 227.0,78.9 247.2,96.7" />
<path class="icr" d="M248.5,202 L272.8,137.5 L294.5,202" />
<path class="icr" d="M238,206.8 L306,206.8" />
</g>
<g transform="translate(1114,-31)">
<path class="ic" d="M81,112 L116.8,112 C130,112 141,118.5 154.5,126.9 C168,134.8 182,137.6 194.1,138.1 C203,138.6 206,142 206.7,148.5 L208.1,168 C208.7,178 198,183 186.5,183.7" />
<path class="ic" d="M81,185.5 L136,185.5" />
<circle cx="161" cy="187" r="21.5" class="ic"/>
<polygon class="k" points="278.6,66.2 266.0,107.2 303.5,129.3 256.2,128.4 233.3,157.9 231.0,128.7 191.4,119.2 229.7,108.4 227.0,78.9 247.2,96.7" />
<path class="icr" d="M248.5,202 L272.8,137.5 L294.5,202" />
<path class="icr" d="M238,206.8 L306,206.8" />
</g>
<g aria-label="OFF"><title>OFF</title>
<path class="k" d="M1224.2,216.5 A29.5,30.1 0 1 0 1283.2,216.5 A29.5,30.1 0 1 0 1224.2,216.5 Z M1232.8,216.5 A20.9,22.6 0 1 1 1274.6,216.5 A20.9,22.6 0 1 1 1232.8,216.5 Z" fill-rule="evenodd"/>
<path class="k" d="M1293,187.7 L1335.4,187.7 L1335.4,194.9 L1301.9,194.9 L1301.9,211.7 L1333.1,211.7 L1333.1,218.3 L1301.9,218.3 L1301.9,244.7 L1293,244.7 Z" />
<path class="k" d="M1343.3,187.7 L1385.4,187.7 L1385.4,194.9 L1352.2,194.9 L1352.2,211.7 L1383.3,211.7 L1383.3,218.3 L1352.2,218.3 L1352.2,244.7 L1343.3,244.7 Z" />
</g>
<g id="p3">
<path class="m" d="M367.5,659 L59,658.8 Q48.6,659.5 48.2,666.6 Q48.4,671 50.8,673.2" />
<path class="m" d="M367.3,669.7 L59,669.7" />
<path class="m" d="M59.0,669.7C58.2,669.9 55.8,670.4 54.5,671.0C53.2,671.6 52.5,671.6 51.0,673.4C49.5,675.2 47.0,677.9 45.4,682.0C43.8,686.1 42.5,691.7 41.4,698.0C40.3,704.3 39.4,712.2 38.8,720.0C38.2,727.8 37.8,735.8 37.8,745.0C37.8,754.2 37.9,765.0 38.6,775.0C39.3,785.0 40.6,796.2 42.0,805.1C43.4,814.0 44.9,821.6 47.1,828.3C49.3,835.0 51.6,840.1 55.1,845.3C58.6,850.5 64.7,856.4 68.2,859.4C71.7,862.4 73.2,862.4 76.0,863.5C78.8,864.6 83.8,865.4 85.3,865.8" />
<path class="m" d="M85.3,865.8 L329.5,865.8 Q337,865 341,862.2 Q347.3,858 349.6,851.4" />
<path class="m" d="M374.3,658.7C373.3,660.6 370.6,664.8 368.5,669.8C366.4,674.8 363.6,681.6 361.5,688.4C359.4,695.2 357.3,702.4 355.7,710.5C354.1,718.6 352.6,729.0 351.6,737.3C350.6,745.5 349.8,753.0 349.5,760.0C349.2,767.0 349.2,771.6 349.8,779.0C350.4,786.4 351.7,795.9 353.0,804.4C354.3,812.9 355.9,822.0 357.5,829.8C359.1,837.6 360.8,845.2 362.5,851.4C364.2,857.5 366.8,864.2 367.6,866.7" />
<path class="m" d="M354.5,673.3C353.3,676.2 349.6,683.9 347.5,690.7C345.4,697.5 343.2,706.2 341.7,714.0C340.1,721.8 339.1,729.6 338.2,737.3C337.3,745.0 336.7,752.0 336.5,760.0C336.3,768.0 336.4,776.3 337.1,785.4C337.9,794.5 339.5,805.7 341.0,814.6C342.5,823.5 344.6,833.0 346.0,838.7C347.4,844.4 348.3,846.8 349.2,848.9C350.1,851.0 350.8,851.0 351.1,851.4" />
<path class="m" d="M351.1,851.4 L361.3,851.4" />
<path class="m" d="M76.6,682.8C75.4,683.6 71.4,685.6 69.4,687.6C67.4,689.6 65.9,691.7 64.6,694.8C63.3,697.9 62.3,701.8 61.4,706.0C60.5,710.2 59.6,714.1 59.0,720.0C58.4,725.9 58.0,734.0 57.9,741.5C57.8,749.0 58.0,758.6 58.2,765.0C58.4,771.4 58.8,776.0 59.1,780.0C59.4,784.0 59.4,786.5 60.1,789.0C60.8,791.5 61.9,793.6 63.1,795.1C64.3,796.6 66.5,797.4 67.2,797.9" />
<path class="m" d="M76.6,682.8 L303.3,682.8 Q310.8,683.2 311.4,689.6 L314.9,731.5 L316.8,760 L320,798.1 L324.4,831.1 L328.3,848.9 Q329.8,859.3 321,859.8 L113.4,859.8" />
<path class="m" d="M78.2,683.6C77.5,684.9 75.2,688.5 74.2,691.6C73.2,694.7 72.8,697.3 72.2,702.0C71.6,706.7 71.0,712.0 70.6,720.0C70.2,728.0 69.9,740.0 70.0,750.0C70.1,760.0 70.6,771.9 71.2,780.0C71.8,788.1 72.5,791.4 73.7,798.6C74.9,805.8 76.6,815.9 78.2,823.2C79.8,830.5 81.1,837.4 83.3,842.3C85.5,847.2 87.9,849.7 91.3,852.4C94.7,855.1 99.7,857.2 103.4,858.4C107.1,859.6 111.7,859.6 113.4,859.8" />
<path class="m" d="M73.7,798.4 L320,798.4" />
<path class="m" d="M91,798.6 L91.3,804.6 L135.5,804.6 L135.5,798.6" />
<path class="m" d="M135.2,682.8C134.8,686.5 133.5,698.8 133.0,705.0C132.5,711.2 132.3,714.2 132.3,720.0C132.3,725.8 132.3,730.0 132.8,740.0C133.3,750.0 134.4,770.3 135.5,780.0C136.6,789.7 138.9,795.3 139.6,798.4" />
<path class="m" d="M155.1,798.6C155.2,800.8 155.3,807.6 155.6,812.0C155.9,816.4 156.2,819.7 157.1,825.2C157.9,830.8 159.5,840.7 160.7,845.3C161.8,849.9 162.7,850.6 164.0,853.0C165.3,855.4 167.9,858.3 168.7,859.4" />
<path class="m" d="M238.9,798.6C239.0,800.8 239.0,807.4 239.4,812.0C239.8,816.6 240.3,820.5 241.2,826.0C242.1,831.5 243.7,840.8 244.8,845.3C245.9,849.8 246.7,850.6 248.0,853.0C249.3,855.4 251.8,858.3 252.6,859.4" />
<path class="m" d="M90.8,846.9 L154.6,846.9 M165.7,846.9 L239,846.9 M249.6,846.9 L324.4,846.9" />
<path class="m" d="M147.5,692.4 L278.5,692.4 Q283.2,692.5 283.6,697 L290.8,784.5 Q291,789.4 286,789.5 L151,790 Q146.3,790 146.1,785.5 L142.5,697 Q142.4,692.5 147.5,692.4 Z" />
<path class="m" d="M149.4,694.7 L188.7,716.4 M266.4,696.7 L240,716.4 M153.9,785 L187.2,762.4 M242.2,765.3 L278.9,783.3" />
<polygon class="k" points="158.0,732.9 169.9,726.9 169.9,740.3" />
<polygon class="k" points="258.7,726.6 258.7,740.7 269.9,732.9" />
<path class="m" d="M158.3,753 L167.4,753 A3.55,3.55 0 0 0 167.4,745.9 L160,745.9" style="stroke-width:2.1"/>
<polygon class="k" points="156.2,745.6 160.8,742.9 160.8,748.6" />
<rect x="192.4" y="716.5" width="46.2" height="45.4" rx="3.2" class="mw" style="stroke-width:1.9"/>
<path class="k" d="M197.6,718 Q203.5,739 199.5,760.8 L232.6,760.8 Q236.5,739 231.6,718 Z" />
<rect x="202.8" y="719.4" width="3.0" height="2.5" fill="#fff"/>
<rect x="209.1" y="719.4" width="3.0" height="2.5" fill="#fff"/>
<rect x="215.7" y="719.4" width="3.0" height="2.5" fill="#fff"/>
<rect x="222.1" y="719.4" width="3.0" height="2.5" fill="#fff"/>
<rect x="199.1" y="720.1" width="2.6" height="1.1" fill="#fff"/>
<rect x="228.7" y="720.1" width="2.6" height="1.1" fill="#fff"/>
<rect x="203.6" y="724.0" width="3.0" height="2.5" fill="#fff"/>
<rect x="209.9" y="724.0" width="3.0" height="2.5" fill="#fff"/>
<rect x="216.5" y="724.0" width="3.0" height="2.5" fill="#fff"/>
<rect x="222.9" y="724.0" width="3.0" height="2.5" fill="#fff"/>
<rect x="199.9" y="724.8" width="2.6" height="1.1" fill="#fff"/>
<rect x="229.5" y="724.8" width="2.6" height="1.1" fill="#fff"/>
<rect x="204.1" y="728.8" width="3.0" height="2.5" fill="#fff"/>
<rect x="210.4" y="728.8" width="3.0" height="2.5" fill="#fff"/>
<rect x="217.0" y="728.8" width="3.0" height="2.5" fill="#fff"/>
<rect x="223.4" y="728.8" width="3.0" height="2.5" fill="#fff"/>
<rect x="200.4" y="729.5" width="2.6" height="1.1" fill="#fff"/>
<rect x="230.0" y="729.5" width="2.6" height="1.1" fill="#fff"/>
<rect x="204.5" y="733.5" width="3.0" height="2.5" fill="#fff"/>
<rect x="210.8" y="733.5" width="3.0" height="2.5" fill="#fff"/>
<rect x="217.4" y="733.5" width="3.0" height="2.5" fill="#fff"/>
<rect x="223.8" y="733.5" width="3.0" height="2.5" fill="#fff"/>
<rect x="200.8" y="734.2" width="2.6" height="1.1" fill="#fff"/>
<rect x="230.4" y="734.2" width="2.6" height="1.1" fill="#fff"/>
<rect x="204.6" y="738.1" width="3.0" height="2.5" fill="#fff"/>
<rect x="210.9" y="738.1" width="3.0" height="2.5" fill="#fff"/>
<rect x="217.5" y="738.1" width="3.0" height="2.5" fill="#fff"/>
<rect x="223.9" y="738.1" width="3.0" height="2.5" fill="#fff"/>
<rect x="200.9" y="738.9" width="2.6" height="1.1" fill="#fff"/>
<rect x="230.5" y="738.9" width="2.6" height="1.1" fill="#fff"/>
<rect x="204.5" y="742.9" width="3.0" height="2.5" fill="#fff"/>
<rect x="210.8" y="742.9" width="3.0" height="2.5" fill="#fff"/>
<rect x="217.4" y="742.9" width="3.0" height="2.5" fill="#fff"/>
<rect x="223.8" y="742.9" width="3.0" height="2.5" fill="#fff"/>
<rect x="200.8" y="743.6" width="2.6" height="1.1" fill="#fff"/>
<rect x="230.4" y="743.6" width="2.6" height="1.1" fill="#fff"/>
<rect x="204.1" y="747.5" width="3.0" height="2.5" fill="#fff"/>
<rect x="210.4" y="747.5" width="3.0" height="2.5" fill="#fff"/>
<rect x="217.0" y="747.5" width="3.0" height="2.5" fill="#fff"/>
<rect x="223.4" y="747.5" width="3.0" height="2.5" fill="#fff"/>
<rect x="200.4" y="748.2" width="2.6" height="1.1" fill="#fff"/>
<rect x="230.0" y="748.2" width="2.6" height="1.1" fill="#fff"/>
<rect x="203.6" y="752.2" width="3.0" height="2.5" fill="#fff"/>
<rect x="209.9" y="752.2" width="3.0" height="2.5" fill="#fff"/>
<rect x="216.5" y="752.2" width="3.0" height="2.5" fill="#fff"/>
<rect x="222.9" y="752.2" width="3.0" height="2.5" fill="#fff"/>
<rect x="199.9" y="753.0" width="2.6" height="1.1" fill="#fff"/>
<rect x="229.5" y="753.0" width="2.6" height="1.1" fill="#fff"/>
<rect x="202.8" y="756.9" width="3.0" height="2.5" fill="#fff"/>
<rect x="209.1" y="756.9" width="3.0" height="2.5" fill="#fff"/>
<rect x="215.7" y="756.9" width="3.0" height="2.5" fill="#fff"/>
<rect x="222.1" y="756.9" width="3.0" height="2.5" fill="#fff"/>
<rect x="199.1" y="757.6" width="2.6" height="1.1" fill="#fff"/>
<rect x="228.7" y="757.6" width="2.6" height="1.1" fill="#fff"/>
<path class="t" d="M195.3,718.5 Q200.3,739 196.3,760.5" style="stroke-width:1"/>
<path class="t" d="M233.8,718.5 Q238.6,739 234.6,760.5" style="stroke-width:1"/>
<text x="205.0" y="781" font-size="16.2" textLength="23.3" lengthAdjust="spacingAndGlyphs">OK</text>
</g>
<g id="p4">
<path class="m" d="M521.7,639.6C518.5,639.9 508.2,640.5 502.6,641.6C497.0,642.7 492.3,644.4 488.0,646.0C483.7,647.6 479.8,649.5 477.0,651.0C474.2,652.5 472.6,653.9 471.5,655.0C470.4,656.1 470.1,656.8 470.2,657.8C470.3,658.8 471.9,660.3 472.3,660.8" />
<path class="m" d="M472.3,660.8 A142,142 0 0 1 518.5,853.5" />
<path class="m" d="M467.7,666.8 A134.3,134.3 0 0 1 466.9,898.1" />
<path class="m" d="M466.9,674 A128,128 0 0 1 466.9,891" />
<path class="m" d="M514.5,864.6 Q511.5,865 509.5,867.5 A144.5,144.5 0 0 1 465.3,907.6" />
<path class="m" d="M798.7,639.6C801.9,639.9 812.2,640.5 817.8,641.6C823.4,642.7 828.1,644.4 832.4,646.0C836.7,647.6 840.7,649.5 843.4,651.0C846.2,652.5 847.8,653.9 848.9,655.0C850.0,656.1 850.3,656.8 850.2,657.8C850.1,658.8 848.5,660.3 848.1,660.8" />
<path class="m" d="M848.1,660.8 A142,142 0 0 0 801.9,853.5" />
<path class="m" d="M852.7,666.8 A134.3,134.3 0 0 0 853.5,898.1" />
<path class="m" d="M853.5,674 A128,128 0 0 0 853.5,891" />
<path class="m" d="M805.9,864.6 Q808.9,865 810.9,867.5 A144.5,144.5 0 0 0 855.1,907.6" />
<path class="m" d="M521.7,639.6 L660,638.6 L798.7,639.6" />
<path class="m" d="M493,677 L827.4,677" />
<path class="m" d="M518.5,853.5 Q517,858.6 522,858.7 L798.4,858.7 Q803.4,858.6 801.9,853.5" />
<path class="m" d="M514.5,864.6 L805.9,864.6" />
</g>
<g id="p5" style="stroke-width:1.8">
<rect x="988.3" y="616.8" width="469.6" height="262.6" class="m5"/>
<path class="m5" d="M1287.4,616.8 L1287.4,879.4" />
<rect x="988.3" y="648.2" width="293.7" height="179.4" class="m5"/>
<path class="m5" d="M988.3,792 Q1003,803 1024,803 L1248,803 Q1268,803 1282,792.3 L1282,827.6 L988.3,827.6 Z" style="fill:#b2b2b2"/>
<path class="m5" d="M988.3,870.6 L1032.6,870.6 L1032.6,827.6" />
<path class="t" d="M1003.4,833.2 Q1010.4,829.5 1017.4,833.2 L1014,841.2 L1007,841.2 Z" style="stroke-width:1.2"/>
<rect x="1006.3" y="842.8" width="8.4" height="14.2" rx="2" class="t" style="stroke-width:1.2"/>
<path class="t" d="M1005,846.6 L1006.3,846.6 M1014.7,846.6 L1016,846.6" style="stroke-width:1"/>
<rect x="1009" y="846.6" width="3" height="1.6" fill="#000"/><rect x="1009" y="853" width="3" height="1.4" fill="#000"/>
<path class="m5" d="M1108.6,684.3C1106.0,688.3 1098.7,699.2 1093.3,708.6C1087.9,718.0 1082.1,728.7 1076.4,740.7C1070.7,752.7 1061.9,773.9 1059.0,780.5" style="stroke-width:2.05"/>
<path class="m5" d="M1163.2,684.3C1165.7,688.3 1172.6,699.2 1178.0,708.6C1183.4,718.0 1189.6,728.7 1195.4,740.7C1201.2,752.7 1209.7,773.9 1212.6,780.5" style="stroke-width:2.05"/>
<path class="m5" d="M1108.6,684.3 L1119.2,684.3 M1152.6,684.3 L1163.2,684.3 M1093.3,708.6 L1106.9,708.6 M1165.3,708.6 L1178,708.6 M1076.4,740.7 L1090.8,740.7 M1180.8,740.7 L1195.4,740.7" style="stroke-width:2.05"/>
<path class="m5" d="M1063,771.8 Q1135,786.6 1208.4,771.8" style="stroke-width:2.05;stroke-dasharray:14 8.4;stroke-linecap:butt"/>
<rect x="1229.5" y="658.4" width="43.59999999999991" height="23.300000000000068" rx="5.5" style="fill:#fff;stroke:#000;stroke-width:5"/>
<text x="1233.0" y="675.3" font-size="14.5" textLength="35.2" lengthAdjust="spacingAndGlyphs">MOD</text>
<rect x="1297" y="630" width="43.200000000000045" height="23.399999999999977" rx="5.5" style="fill:#fff;stroke:#000;stroke-width:5"/>
<text x="1300.4" y="647" font-size="14.5" textLength="35.2" lengthAdjust="spacingAndGlyphs">MOD</text>
<path class="m5" d="M1457.9,625.5 L1291.9,625.5 L1291.9,870.8 L1457.9,870.8" />
<path class="m5" d="M1291.9,661.9 L1343.7,675.8 L1400.5,675.8" />
<path class="m5" d="M1291.9,666.3 L1342.4,679.8 L1342.4,813.4 L1291.9,824" />
<path class="m5" d="M1291.9,828.7 L1343.7,816.2 L1400.5,816.2" />
<path class="m5" d="M1345.9,675.8 L1345.9,816.2 M1398.6,675.8 L1398.6,816.2" />
<polygon class="m5" points="1401.6,678.4 1457.3,662.8 1457.3,827.8 1401.6,812.2" style="stroke-width:5;stroke-linejoin:miter"/>
<path class="t" d="M1345.6,690 Q1345.8,678 1360,677.2 L1384,677.2 Q1398.2,678 1398.4,690 L1398.4,802 Q1397.5,811.5 1384,812.3 L1360,812.3 Q1346.5,811.5 1345.6,802 Z" style="stroke-width:2.2"/>
<path class="t" d="M1348.3,712 L1348.3,802 Q1349.5,809 1360,809.8 L1384,809.8 Q1394.8,809 1396,802 L1396,712" style="stroke-width:1"/>
<path class="k" d="M1348.5,709.9 Q1371.4,697.9 1395.9,709.9 L1392.6,724.3 Q1371.4,717.5 1352.8,724.3 Z" />
<path class="t" d="M1351.9,725 L1355,800.4 M1393.4,725 L1390,800.4" style="stroke-width:1.9"/>
<path class="k" d="M1350.2,800 Q1351.5,806 1357,808 Q1353.2,804 1352.8,799 Z M1395,800 Q1393.7,806 1388.2,808 Q1392,804 1392.4,799 Z" />
<path class="t" d="M1351.8,803.6 Q1371.4,814 1392.8,803.6" style="stroke-width:1.2"/>
</g>
</svg>
</body></html>
